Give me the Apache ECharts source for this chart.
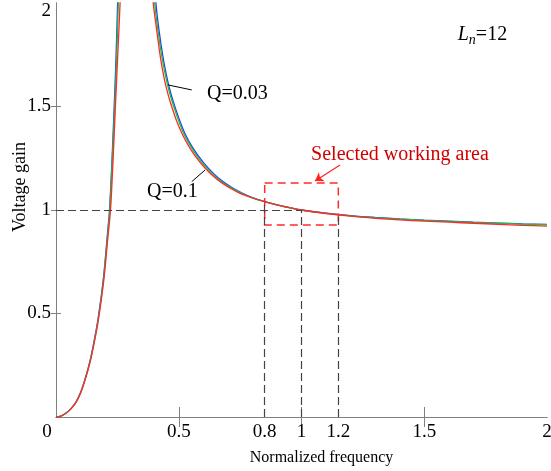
<!DOCTYPE html>
<html>
<head>
<meta charset="utf-8">
<script src="https://cdn.jsdelivr.net/npm/echarts@6/dist/echarts.min.js"></script>
<style>
  html, body { margin: 0; padding: 0; background: #fff; }
  #chart { width: 551px; height: 471px; }
</style>
</head>
<body>
<div id="chart"></div>
<script>
// gain curves, [normalized frequency, voltage gain]
// blue: Q=0.03
const qLow = [
  [0, 0], [0.02, 0.004], [0.04, 0.018], [0.06, 0.039], [0.08, 0.07], [0.1, 0.118],
  [0.12, 0.19], [0.14, 0.278], [0.155, 0.365], [0.17, 0.465], [0.185, 0.59], [0.197, 0.715],
  [0.21, 0.89], [0.218, 1.0], [0.228, 1.24], [0.237, 1.5], [0.244, 1.72], [0.251, 2.0],
  [0.265, 2.6], [0.28, 3.4], [0.3, 4.5], [0.32, 4.8], [0.34, 4.0], [0.36, 3.2],
  [0.38, 2.6], [0.395, 2.25], [0.407, 2.0], [0.42, 1.865], [0.435, 1.745], [0.45, 1.65],
  [0.465, 1.575], [0.48, 1.515], [0.5, 1.445], [0.525, 1.37], [0.56, 1.295], [0.6, 1.23],
  [0.64, 1.178], [0.68, 1.137], [0.72, 1.106], [0.76, 1.081], [0.8, 1.06], [0.85, 1.041],
  [0.9, 1.025], [0.95, 1.012], [1, 1.0], [1.1, 0.985], [1.2, 0.973], [1.3, 0.964],
  [1.4, 0.957], [1.5, 0.951], [1.6, 0.946], [1.7, 0.941], [1.8, 0.937], [1.9, 0.933], [2, 0.93]
];
// green: middle Q
const qMid = [
  [0, 0], [0.02, 0.004], [0.04, 0.018], [0.06, 0.039], [0.08, 0.069], [0.1, 0.117],
  [0.12, 0.188], [0.14, 0.275], [0.155, 0.362], [0.17, 0.46], [0.185, 0.582], [0.197, 0.705],
  [0.21, 0.875], [0.219, 1.0], [0.229, 1.24], [0.239, 1.5], [0.247, 1.74], [0.254, 2.0],
  [0.27, 2.6], [0.285, 3.3], [0.305, 3.9], [0.325, 3.8], [0.345, 3.3], [0.365, 2.8],
  [0.385, 2.3], [0.402, 2.0], [0.415, 1.87], [0.43, 1.75], [0.445, 1.655], [0.46, 1.578],
  [0.475, 1.517], [0.495, 1.447], [0.52, 1.37], [0.555, 1.295], [0.595, 1.228], [0.635, 1.177],
  [0.675, 1.136], [0.715, 1.106], [0.755, 1.081], [0.8, 1.059], [0.85, 1.04], [0.9, 1.025],
  [0.95, 1.012], [1, 1.0], [1.1, 0.984], [1.2, 0.972], [1.3, 0.963], [1.4, 0.956],
  [1.5, 0.95], [1.6, 0.945], [1.7, 0.94], [1.8, 0.936], [1.9, 0.932], [2, 0.929]
];
// red: Q=0.1
const qHigh = [
  [0, 0], [0.02, 0.004], [0.04, 0.018], [0.06, 0.038], [0.08, 0.068], [0.1, 0.115],
  [0.12, 0.185], [0.14, 0.27], [0.155, 0.355], [0.17, 0.45], [0.185, 0.57], [0.197, 0.685],
  [0.21, 0.85], [0.222, 1.0], [0.232, 1.23], [0.242, 1.5], [0.252, 1.76], [0.261, 2.0],
  [0.275, 2.5], [0.29, 3.0], [0.31, 3.3], [0.33, 3.1], [0.35, 2.75], [0.37, 2.4],
  [0.385, 2.17], [0.396, 2.0], [0.41, 1.87], [0.425, 1.74], [0.44, 1.64], [0.455, 1.565],
  [0.47, 1.505], [0.49, 1.435], [0.515, 1.365], [0.55, 1.29], [0.59, 1.225], [0.63, 1.175],
  [0.67, 1.135], [0.71, 1.105], [0.75, 1.08], [0.8, 1.058], [0.85, 1.04], [0.9, 1.025],
  [0.95, 1.012], [1, 1.0], [1.1, 0.983], [1.2, 0.97], [1.3, 0.96], [1.4, 0.952],
  [1.5, 0.946], [1.6, 0.941], [1.7, 0.936], [1.8, 0.931], [1.9, 0.926], [2, 0.922]
];

// tick labels as printed in the figure
const xLabelValues = [0, 0.5, 0.85, 1, 1.15, 1.5, 2];
const xLabelText = ['0', '0.5', '0.8', '1', '1.2', '1.5', '2'];
const xTickValues = [0.5, 1, 1.5];
const yLabelValues = [0.5, 1, 1.5, 2];
const yTickValues = [0.5, 1, 1.5];

const font = 'Liberation Serif';
const gray = '#808080';

const chart = echarts.init(document.getElementById('chart'));

// every text goes through a rich style so the serif font sticks
const txt = (size, extra) => Object.assign({ fontFamily: font, fontSize: size, color: '#000' }, extra || {});

function curve(name, data, color) {
  return {
    name: name,
    type: 'line',
    data: data,
    showSymbol: false,
    smooth: 0.3,
    clip: true,
    silent: true,
    lineStyle: { color: color, width: 1.3 },
    z: 3
  };
}

const option = {
  animation: false,
  backgroundColor: '#fff',
  grid: { left: 56, right: 4, top: 3, bottom: 54, containLabel: false, outerBoundsMode: 'none' },
  xAxis: [
    {
      type: 'value', min: 0, max: 2, position: 'bottom',
      splitLine: { show: false },
      axisLine: { lineStyle: { color: gray } },
      axisTick: { inside: true, length: 10, customValues: xTickValues, lineStyle: { color: gray } },
      axisLabel: {
        customValues: xLabelValues,
        formatter: v => {
          const t = xLabelText[xLabelValues.indexOf(v)];
          return v === 0 ? '{z|' + t + '}' : '{a|' + t + '}';
        },
        margin: 6, fontFamily: font, fontSize: 19, color: '#000',
        rich: { a: txt(19), z: txt(19, { padding: [0, 18, 0, 0] }) }
      },
      name: 'Normalized frequency',
      nameLocation: 'middle',
      nameMoveOverlap: false,
      nameGap: 33,
      nameTextStyle: { color: '#000', fontFamily: font, fontSize: 16, padding: [0, 0, 0, 40] }
    },
    {
      type: 'value', min: 0, max: 2, position: 'top',
      splitLine: { show: false },
      axisLine: { lineStyle: { color: gray } },
      axisTick: { inside: true, length: 10, customValues: xTickValues, lineStyle: { color: gray } },
      axisLabel: { show: false }
    }
  ],
  yAxis: [
    {
      type: 'value', min: 0, max: 2, interval: 0.5, position: 'left',
      splitLine: { show: false },
      axisLine: { show: true, lineStyle: { color: gray } },
      axisTick: { show: true, inside: true, length: 5, customValues: yTickValues, lineStyle: { color: gray } },
      axisLabel: {
        customValues: yLabelValues,
        formatter: v => (v === 2 ? '{t|2}' : '{a|' + v + '}'),
        margin: 5, fontFamily: font, fontSize: 19, color: '#000',
        rich: { a: txt(19), t: txt(19, { padding: [16, 0, 0, 0] }) }
      },
      name: 'Voltage gain',
      nameLocation: 'middle',
      nameMoveOverlap: false,
      nameGap: 27,
      nameTextStyle: { color: '#000', fontFamily: font, fontSize: 18, padding: [0, 0, 0, 46] }
    },
    {
      type: 'value', min: 0, max: 2, interval: 0.5, position: 'right',
      splitLine: { show: false },
      axisLine: { show: true, lineStyle: { color: gray } },
      axisTick: { show: true, inside: true, length: 5, customValues: yTickValues, lineStyle: { color: gray } },
      axisLabel: { show: false }
    }
  ],
  series: [
    curve('Q=0.03', qLow, '#2040ff'),
    curve('Q=0.05', qMid, '#20c030'),
    curve('Q=0.1', qHigh, '#ff2a2a'),
    // black dashed guides and the red working box
    {
      type: 'line', data: [], silent: true,
      markLine: {
        silent: true, symbol: 'none', animation: false,
        label: { show: false },
        lineStyle: { color: '#444', width: 1.2, type: [8, 4] },
        data: [
          [{ coord: [0, 1] }, { coord: [1, 1] }],
          [{ coord: [0.85, 0] }, { coord: [0.85, 1.04] }],
          [{ coord: [1, 0] }, { coord: [1, 1] }],
          [{ coord: [1.15, 0] }, { coord: [1.15, 0.976] }]
        ]
      },
      markArea: {
        silent: true,
        itemStyle: { color: 'rgba(0,0,0,0)', borderColor: '#ff2a2a', borderWidth: 1.5, borderType: [8, 5] },
        data: [[{ coord: [0.85, 1.13] }, { coord: [1.15, 0.928] }]]
      },
      z: 4
    },
    // pointer lines and text notes
    {
      type: 'line', data: [], silent: true,
      markLine: {
        silent: true, symbol: 'none', animation: false,
        label: { show: false },
        lineStyle: { color: '#000', width: 1, type: 'solid' },
        data: [
          [{ coord: [0.457, 1.604] }, { coord: [0.553, 1.58] }],
          [{ coord: [0.553, 1.137] }, { coord: [0.607, 1.193] }]
        ]
      },
      markPoint: {
        silent: true, symbol: 'circle', symbolSize: 0,
        label: {
          show: true, position: 'inside', fontFamily: font, fontSize: 20, color: '#000',
          formatter: p => p.name,
          rich: {
            a: txt(20),
            r: txt(20, { color: '#d00000' }),
            i: txt(20, { fontStyle: 'italic' }),
            s: txt(14, { fontStyle: 'italic', padding: [10, 0, 0, 0] })
          }
        },
        data: [
          { name: '{a|Q=0.03}', coord: [0.739, 1.564] },
          { name: '{a|Q=0.1}', coord: [0.474, 1.088] },
          { name: '{i|L}{s|n}{a|=12}', coord: [1.737, 1.845] },
          { name: '{r|Selected working area}', coord: [1.401, 1.266] }
        ]
      },
      z: 5
    },
    // red arrow to the working area
    {
      type: 'line', data: [], silent: true,
      markLine: {
        silent: true, animation: false,
        symbol: ['none', 'arrow'], symbolSize: 8,
        label: { show: false },
        lineStyle: { color: '#ff2020', width: 1.2, type: 'solid' },
        data: [[{ coord: [1.157, 1.217] }, { coord: [1.055, 1.14] }]]
      },
      z: 5
    }
  ]
};

chart.setOption(option);
</script>
</body>
</html>
